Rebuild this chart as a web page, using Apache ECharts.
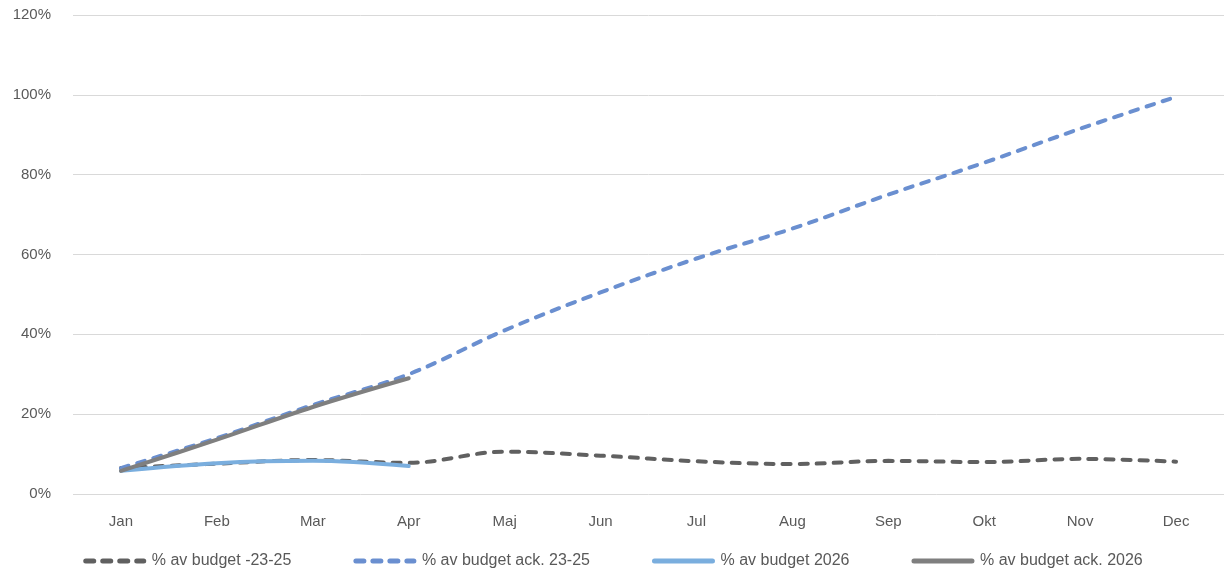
<!DOCTYPE html>
<html>
<head>
<meta charset="utf-8">
<script src="https://cdn.jsdelivr.net/npm/echarts@6/dist/echarts.min.js"></script>
<style>
  html, body { margin: 0; padding: 0; background: #fff; }
  #chart { width: 1226px; height: 577px; }
</style>
</head>
<body>
<div id="chart"></div>
<script>
// månader och värden (andel av budget, %)
const months = ['Jan', 'Feb', 'Mar', 'Apr', 'Maj', 'Jun', 'Jul', 'Aug', 'Sep', 'Okt', 'Nov', 'Dec']
const budget2325 = [6.5, 7.6, 8.5, 7.8, 10.6, 9.6, 8.2, 7.5, 8.3, 8.0, 8.8, 8.1]
const budgetAck2325 = [6.5, 14.0, 22.3, 30.0, 41.0, 50.5, 59.0, 66.5, 75.0, 83.0, 91.5, 99.5]
const budget2026 = [5.8, 7.7, 8.3, 7.0]
const budgetAck2026 = [5.8, 13.6, 21.8, 29.0]
const yTicks = [0, 20, 40, 60, 80, 100, 120]

const chart = echarts.init(document.getElementById('chart'))

const FONT = 'Liberation Sans'

function line(name, data, color, type) {
  return {
    name,
    type: 'line',
    smooth: 0.35,
    symbol: 'none',
    data,
    lineStyle: { color, width: 4, type: type, cap: 'round' },
    itemStyle: { color },
    emphasis: { disabled: true }
  }
}

chart.setOption({
  animation: false,
  textStyle: { fontFamily: FONT },
  grid: { left: 73, right: 2, top: 15, bottom: 83 },
  legend: {
    bottom: 3,
    left: 'center',
    itemWidth: 58,
    itemHeight: 10,
    itemGap: 62,
    itemStyle: { color: 'transparent', borderWidth: 0 },
    lineStyle: { width: 5 },
    textStyle: { fontSize: 16, color: '#595959', fontFamily: FONT, padding: [0, 0, 0, 3] },
    data: ['% av budget -23-25', '% av budget ack. 23-25', '% av budget 2026', '% av budget ack. 2026']
  },
  xAxis: {
    type: 'category',
    data: months,
    boundaryGap: true,
    axisLine: { show: false },
    axisTick: { show: false },
    axisLabel: { color: '#595959', fontSize: 15, margin: 20 }
  },
  yAxis: {
    type: 'value',
    min: yTicks[0],
    max: yTicks[yTicks.length - 1],
    interval: 20,
    axisLine: { show: false },
    axisTick: { show: false },
    axisLabel: { color: '#595959', fontSize: 15, margin: 22, formatter: v => v + '%' },
    splitLine: { lineStyle: { color: '#d9d9d9', width: 1 } }
  },
  series: [
    line('% av budget -23-25', budget2325, '#606060', [8, 9]),
    line('% av budget ack. 23-25', budgetAck2325, '#6a8fd0', [8, 9]),
    line('% av budget 2026', budget2026, '#7aaede', 'solid'),
    line('% av budget ack. 2026', budgetAck2026, '#7f7f7f', 'solid')
  ]
})
</script>
</body>
</html>
